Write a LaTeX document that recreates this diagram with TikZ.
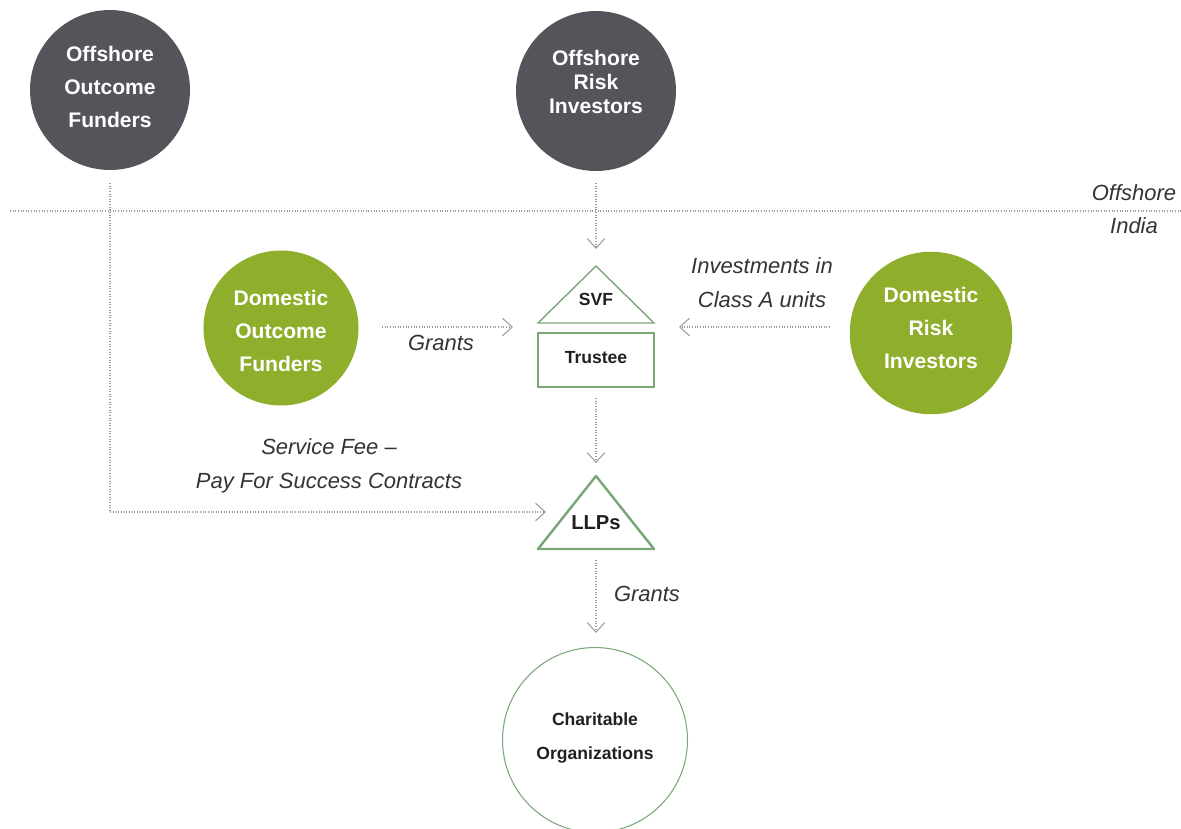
\documentclass[tikz,border=0pt]{standalone}
\usepackage{fontspec}
\setmainfont{Liberation Sans}
\usetikzlibrary{arrows.meta}
\definecolor{offgray}{HTML}{54555A}
\definecolor{domgreen}{HTML}{8FAE2B}
\definecolor{edgegreen}{HTML}{7BA778}
\definecolor{flowgray}{HTML}{9C9C9C}
\definecolor{notegray}{HTML}{333333}
\definecolor{inkblack}{HTML}{231F20}
\tikzset{
  fund/.style={circle, fill=offgray, minimum size=3.2cm, inner sep=0pt},
  fundtext/.style={text=white, align=center, font=\bfseries\fontsize{12}{19}\selectfont},
  entity/.style={draw=edgegreen, line width=0.8pt},
  entitytext/.style={text=inkblack, align=center, font=\bfseries\fontsize{10}{19}\selectfont},
  flow/.style={draw=flowgray, line width=0.6pt, dash pattern=on 0.5pt off 1pt,
    -{Straight Barb[length=5.5pt,width=10pt,line width=0.6pt]}},
  note/.style={text=notegray, align=center, font=\itshape\fontsize{12.5}{19.5}\selectfont}
}
\begin{document}
\begin{tikzpicture}[x=0.02cm,y=-0.02cm]
  \useasboundingbox (0,0) rectangle (1181,829);
  % offshore / india border
  \draw[flow,-] (10,211) -- (1181,211);
  \node[note] (offlbl) at (1134,193) {Offshore};
  \node[note] (indlbl) at (1134,226) {India};
  % funders and investors
  \node[fund] (oof) at (110,90) {};
  \node[fundtext] (ooftext) at (110,87) {Offshore\\Outcome\\Funders};
  \node[fund] (ori) at (596,91) {};
  \node[fundtext, font=\bfseries\fontsize{12}{13.6}\selectfont] (oritext) at (596,82) {Offshore\\Risk\\Investors};
  \node[fund, fill=domgreen, minimum size=3.1cm] (dof) at (281,328) {};
  \node[fundtext] (doftext) at (281,331) {Domestic\\Outcome\\Funders};
  \node[fund, fill=domgreen, minimum size=3.25cm] (dri) at (931,333) {};
  \node[fundtext] (dritext) at (931,328) {Domestic\\Risk\\Investors};
  % SVF and trustee
  \draw[entity] (538,323) -- (596,266) -- (654,323) -- cycle;
  \node[entitytext] (svf) at (596,299) {SVF};
  \node[entity, minimum width=2.32cm, minimum height=1.08cm] (trustee) at (596,360) {};
  \node[entitytext] at (596,358) {Trustee};
  % LLPs
  \draw[entity, line width=1.4pt, line join=round] (538,549) -- (596,476) -- (654,549) -- cycle;
  \node[entitytext, font=\bfseries\fontsize{11.5}{14}\selectfont] (llp) at (596,523) {LLPs};
  % charitable organizations
  \node[circle, draw=edgegreen, line width=0.6pt, minimum size=3.7cm] (char) at (595,740) {};
  \node[entitytext] (chartext) at (595,738) {Charitable\\Organizations};
  % connector ends
  \coordinate (oofout) at (110,183);
  \coordinate (llpleft) at (546,512);
  \coordinate (oriout) at (596,183);
  \coordinate (svftop) at (596,249);
  \coordinate (dofout) at (382,327);
  \coordinate (svfleft) at (513,327);
  \coordinate (driout) at (830,327);
  \coordinate (svfright) at (679,327);
  \coordinate (trout) at (596,398);
  \coordinate (llptop) at (596,463);
  \coordinate (llpout) at (596,560);
  \coordinate (chartop) at (596,633);
  \draw[flow] (oofout) |- (llpleft);
  \draw[flow] (oriout) -- (svftop);
  \draw[flow] (dofout) -- (svfleft);
  \draw[flow] (driout) -- (svfright);
  \draw[flow] (trout) -- (llptop);
  \draw[flow] (llpout) -- (chartop);
  % flow labels
  \node[note] (grantsin) at (441,343) {Grants};
  \node[note] (invest) at (762,283) {Investments in\\Class A units};
  \node[note] (fee) at (329,466) {Service Fee --\\Pay For Success Contracts};
  \node[note] (grantsout) at (647,594) {Grants};
\end{tikzpicture}
\end{document}
